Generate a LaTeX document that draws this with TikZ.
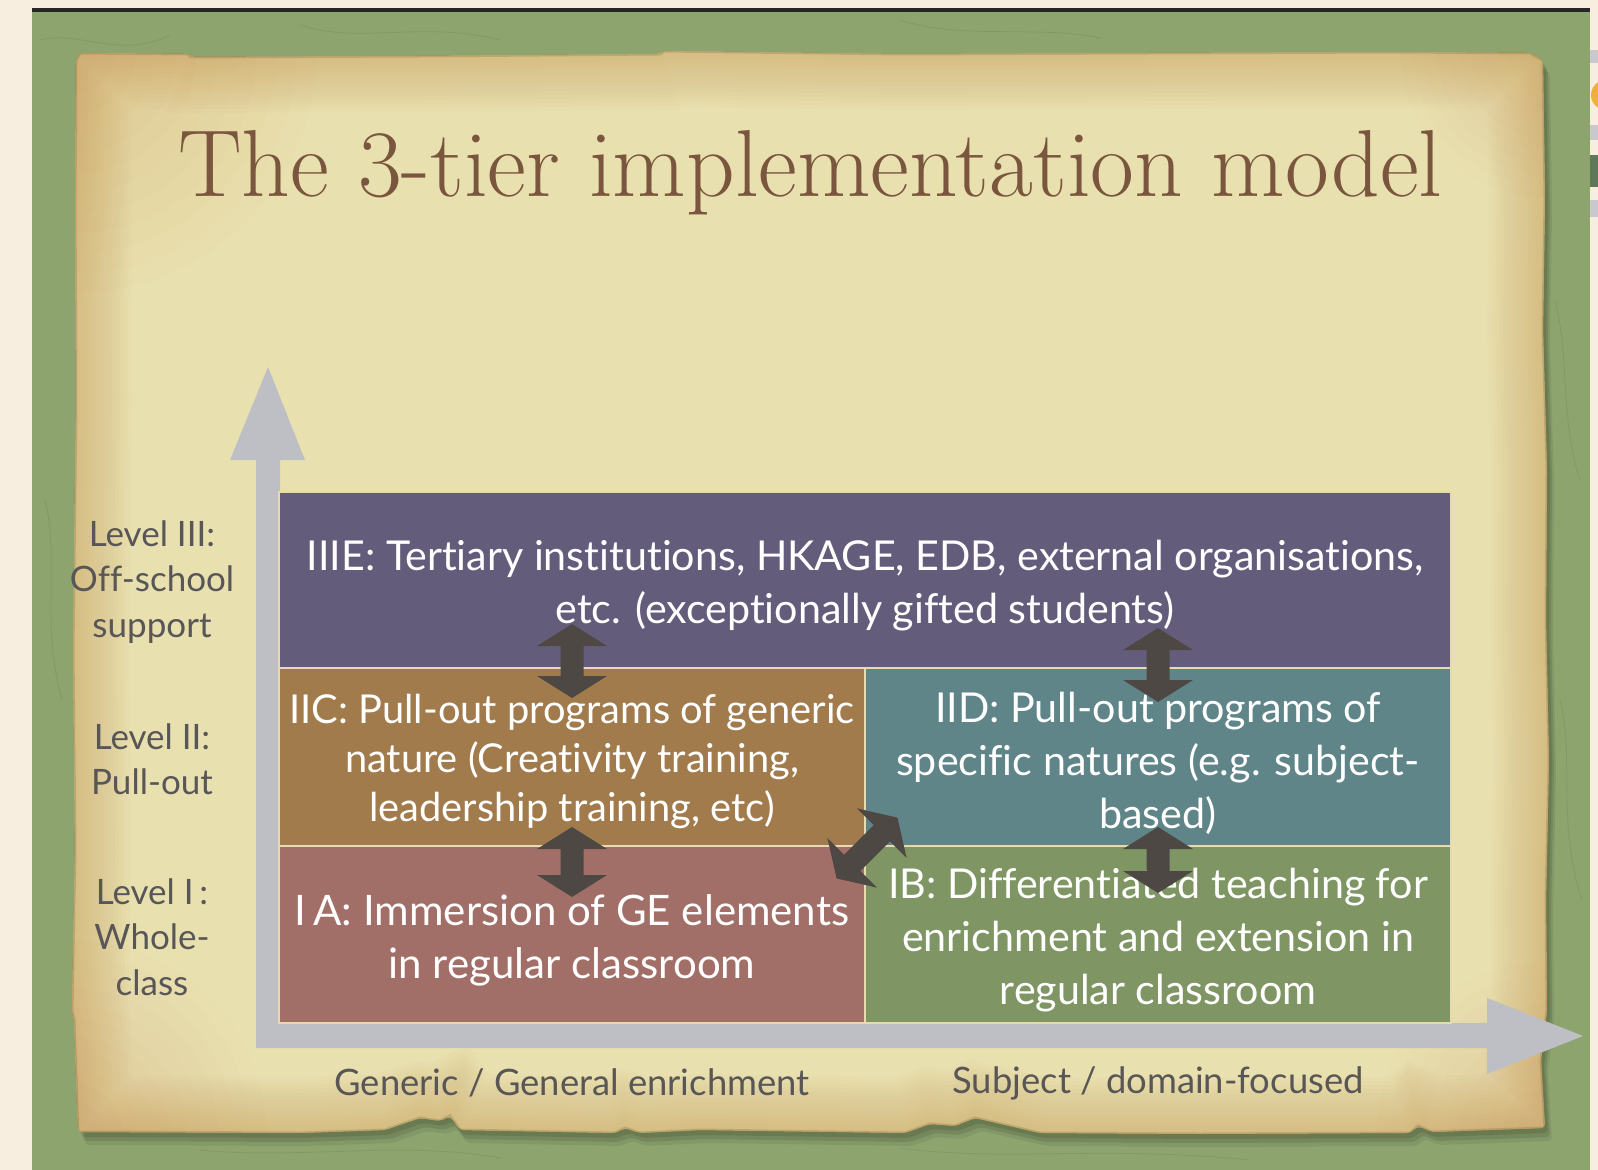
\documentclass[tikz,border=0pt]{standalone}
\usepackage{fontspec}
\setsansfont{Lato}[Ligatures=NoCommon]
\definecolor{cream}{RGB}{247,238,223}
\definecolor{greenbg}{RGB}{141,164,111}
\definecolor{greendark}{RGB}{118,140,92}
\definecolor{paperA}{RGB}{233,224,176}
\definecolor{paperC}{RGB}{196,150,80}
\definecolor{titlebrown}{RGB}{123,86,62}
\definecolor{axisgrey}{RGB}{190,190,197}
\definecolor{arrowdark}{RGB}{78,72,68}
\definecolor{sepcream}{RGB}{232,218,176}
\definecolor{purp}{RGB}{99,93,123}
\definecolor{brownbox}{RGB}{161,123,75}
\definecolor{tealbox}{RGB}{95,133,137}
\definecolor{rosebox}{RGB}{161,111,104}
\definecolor{greenbox}{RGB}{128,149,100}
\definecolor{lblgrey}{RGB}{88,86,86}
\definecolor{uigrey}{RGB}{200,200,206}
\definecolor{uiorange}{RGB}{240,176,62}
\definecolor{uigreen}{RGB}{95,120,88}
\def\paperoutline{(80,53) -- (188,54) -- (191,57) -- (420,56) -- (660,54) -- (664,51) -- (900,54) -- (1150,53) -- (1400,52) -- (1530,53) -- (1543,60) -- (1545,200) -- (1543,330) -- (1547,470) -- (1546,620) -- (1549,760) -- (1546,900) -- (1547,1010) -- (1541,1060) -- (1545,1128) -- (1432,1132) -- (1418,1126) -- (1410,1133) -- (1200,1134) -- (1040,1133) -- (975,1118) -- (955,1126) -- (930,1124) -- (905,1133) -- (700,1130) -- (640,1133) -- (625,1128) -- (615,1133) -- (460,1130) -- (450,1116) -- (440,1121) -- (420,1118) -- (385,1130) -- (300,1133) -- (78,1132) -- (74,1020) -- (72,1010) -- (75,850) -- (73,650) -- (76,400) -- (75,200) -- (76,60) -- cycle}
\tikzset{
  pics/dbl/.style={code={\fill[arrowdark] (-#1,0) -- (-#1+22,-35) -- (-#1+22,-11.5) -- (#1-22,-11.5) -- (#1-22,-35) -- (#1,0) -- (#1-22,35) -- (#1-22,11.5) -- (-#1+22,11.5) -- (-#1+22,35) -- cycle;}},
  tierbox/.style={draw=sepcream, line width=1pt, inner sep=0pt},
  boxtext/.style={align=center, text=white, inner sep=0pt,
    font=\sffamily\fontsize{20.6}{26.5}\selectfont},
  lvl/.style={align=center, text=lblgrey, inner sep=0pt, font=\sffamily\fontsize{17.5}{22.7}\selectfont},
  axlbl/.style={text=lblgrey, inner sep=0pt, font=\sffamily\fontsize{18.2}{21}\selectfont}
}
\begin{document}
\begin{tikzpicture}[x=0.5pt,y=-0.5pt]
\useasboundingbox (0,0) rectangle (1598,1170);
\fill[cream] (0,0) rectangle (1598,1170);
\fill[greenbg] (32,12) rectangle (1590,1170);
% faint texture cracks in the green frame
\begin{scope}[greendark, line width=0.4pt, opacity=0.45]
  \draw (40,40) .. controls (80,30) and (120,60) .. (170,35);
  \draw (300,25) .. controls (360,45) and (420,20) .. (500,40);
  \draw (900,20) .. controls (960,40) and (1040,25) .. (1100,38);
  \draw (1555,300) .. controls (1570,360) and (1560,420) .. (1580,480);
  \draw (1560,700) .. controls (1575,760) and (1556,820) .. (1582,900);
  \draw (45,500) .. controls (60,560) and (40,620) .. (62,700);
  \draw (200,1150) .. controls (300,1160) and (400,1140) .. (500,1158);
  \draw (900,1148) .. controls (1000,1162) and (1100,1145) .. (1250,1160);
\end{scope}
\fill[black!85] (32,8.5) rectangle (1590,12.5);
% UI fragments at the right edge
\fill[uigrey] (1590,50) rectangle (1598,63);
\fill[uiorange] (1606,95) circle[radius=15];
\fill[uigrey] (1590,125) rectangle (1598,140);
\fill[uigreen] (1590,155) rectangle (1598,187);
\fill[uigrey] (1590,200) rectangle (1598,217);
% paper shadow
\begin{scope}[shift={(3,5)}]
  \fill[black, opacity=0.10, rounded corners=2pt] \paperoutline;
\end{scope}
\begin{scope}[shift={(5,9)}]
  \fill[black, opacity=0.10, rounded corners=2pt] \paperoutline;
\end{scope}
\begin{scope}[shift={(7,13)}]
  \fill[black, opacity=0.07, rounded corners=2pt] \paperoutline;
\end{scope}
% paper with smoothly darkened, aged rim
\begin{scope}
  \clip[rounded corners=2pt] \paperoutline;
  \fill[paperA] (0,0) rectangle (1598,1170);
  \foreach \r in {240,220,...,20} {
    \fill[paperC, opacity=0.025] (76,53) circle[radius=\r];
    \fill[paperC, opacity=0.02] (74,1133) circle[radius=0.8*\r];
    \fill[paperC, opacity=0.018] (1545,1130) circle[radius=0.7*\r];
    \fill[paperC, opacity=0.015] (1545,53) circle[radius=0.6*\r];
  }
  \foreach \w in {56,52,...,4} {
    \draw[paperC, line width=\w pt, opacity=0.035] \paperoutline;
  }
  \draw[paperC!70!black, line width=1.5pt, opacity=0.3] \paperoutline;
\end{scope}
% title
\node[anchor=base west, inner sep=0pt, text=titlebrown, font=\fontsize{47.6}{50}\selectfont] (title) at (178,197) {The 3-tier implementation model};
% axes
\coordinate (origin) at (256,1048);
\fill[axisgrey] (origin) -- (256,460) -- (230,460) -- (268,367) -- (305,460) -- (280,460) -- (280,1023)
  -- (1487,1023) -- (1487,998) -- (1583,1036) -- (1487,1074) -- (1487,1048) -- cycle;
% boxes
\node[tierbox, fill=purp, minimum width=586pt, minimum height=88pt] (IIIE) at (865,580) {};
\node[tierbox, fill=brownbox, minimum width=293pt, minimum height=89pt] (IIC) at (572,757) {};
\node[tierbox, fill=tealbox, minimum width=293pt, minimum height=89pt] (IID) at (1158,757) {};
\node[tierbox, fill=rosebox, minimum width=293pt, minimum height=88.5pt] (IA) at (572,934.5) {};
\node[tierbox, fill=greenbox, minimum width=293pt, minimum height=88.5pt] (IB) at (1158,934.5) {};
% box texts
\node[boxtext] (IIIEt) at ([yshift=-3pt]IIIE.center)
  {IIIE: Tertiary institutions, HKAGE, EDB, external organisations,\\etc. (exceptionally gifted students)};
\node[boxtext, font=\sffamily\fontsize{19.9}{24.5}\selectfont] (IICt) at ([yshift=-2pt]IIC.center)
  {IIC: Pull-out programs of generic\\nature (Creativity training,\\leadership training, etc)};
\node[boxtext] (IIDt) at ([yshift=-3pt]IID.center)
  {IID: Pull-out programs of\\specific natures (e.g. subject-\\based)};
\node[boxtext, font=\sffamily\fontsize{21}{26.5}\selectfont] (IAt) at ([yshift=-3pt]IA.center)
  {I\,A: Immersion of GE elements\\in regular classroom};
\node[boxtext] (IBt) at ([yshift=-3pt]IB.center)
  {IB: Differentiated teaching for\\enrichment and extension in\\regular classroom};
% double arrows
\pic[rotate=90] (arrA) at (572,661) {dbl=37};
\pic[rotate=90] (arrB) at (1158,665) {dbl=37};
\pic[rotate=90] (arrC) at (572,862) {dbl=35};
\pic[rotate=90] (arrD) at (1158,860) {dbl=33};
\pic[rotate=45] (arrE) at (867,848) {dbl=43};
% level labels
\node[lvl] (L3) at (152,582) {Level III:\\Off-school\\support};
\node[lvl] (L2) at (152,759) {Level II:\\Pull-out};
\node[lvl] (L1) at (152,937) {Level I\,:\\Whole-\\class};
% axis labels
\node[axlbl] (xgen) at (572,1083) {Generic / General enrichment};
\node[axlbl] (xsub) at (1158,1083) {Subject / domain-focused};
\end{tikzpicture}
\end{document}
